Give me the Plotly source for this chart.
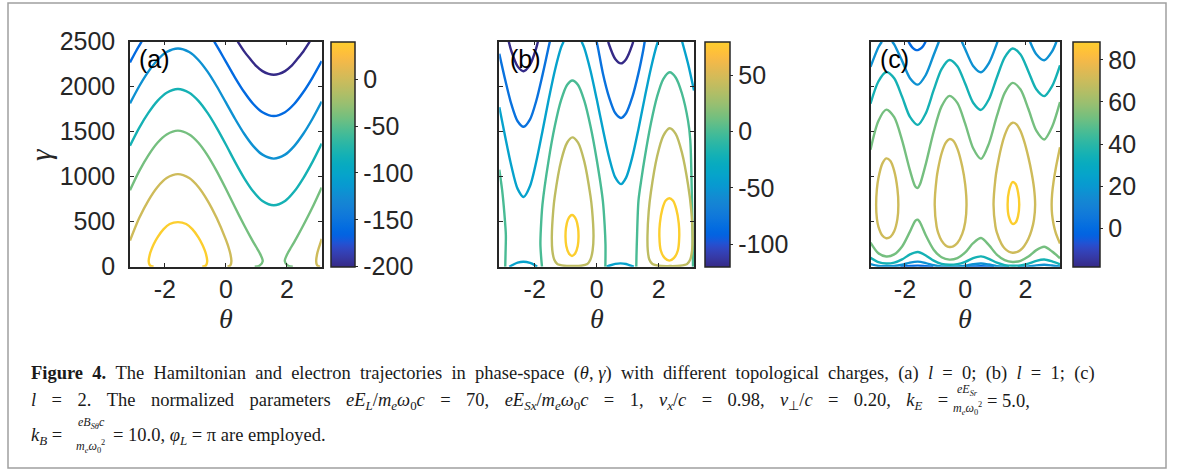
import math
import plotly.graph_objects as go

W, H = 1182, 470
PI = math.pi

# ----------------------------------------------------------------------------
# Contour levels and contour-line vertices (theta, gamma)
# ----------------------------------------------------------------------------
# Panel (a): l = 0
A_LEVELS = [-200, -160, -120, -80, -40, 0, 40]
a_m200 = [[(0.39, 2500), (0.6, 2392), (0.8, 2307), (1.0, 2228), (1.2, 2173), (1.4, 2142), (1.571, 2133),
           (1.74, 2142), (1.94, 2173), (2.14, 2228), (2.34, 2307), (2.54, 2392), (2.75, 2500)]]
a_m160 = [[(-0.38, 2500), (-0.2, 2397), (0, 2279), (0.3, 2102), (0.6, 1941), (0.9, 1808), (1.2, 1717),
           (1.571, 1675), (1.94, 1717), (2.24, 1808), (2.54, 1941), (2.84, 2102), (3.1416, 2285)],
          [(-3.1416, 2270), (-2.94, 2397), (-2.76, 2500)]]
a_m120 = [[(-3.1416, 1815), (-2.84, 2005), (-2.54, 2167), (-2.24, 2297), (-1.94, 2385), (-1.571, 2425),
           (-1.2, 2385), (-0.9, 2297), (-0.6, 2167), (-0.3, 2005), (0, 1825), (0.3, 1644), (0.6, 1477),
           (0.9, 1340), (1.2, 1245), (1.571, 1201), (1.94, 1245), (2.24, 1340), (2.54, 1477), (2.84, 1644),
           (3.1416, 1835)]]
a_m80 = [[(-3.1416, 1345), (-2.84, 1543), (-2.54, 1709), (-2.24, 1843), (-1.94, 1933), (-1.571, 1974),
          (-1.2, 1933), (-0.9, 1843), (-0.6, 1709), (-0.3, 1543), (0, 1358), (0.3, 1165), (0.6, 985),
          (0.9, 835), (1.2, 730), (1.571, 682), (1.94, 730), (2.24, 835), (2.54, 985), (2.84, 1165),
          (3.1416, 1368)]]
a_m40 = [[(0.946, 0), (1.1, 10), (1.209, 62), (1.1, 158), (1.0, 216), (0.9, 274), (0.8, 334), (0.6, 460),
          (0.3, 660), (0, 866), (-0.3, 1062), (-0.6, 1237), (-0.9, 1377), (-1.2, 1469), (-1.571, 1512),
          (-1.94, 1469), (-2.24, 1377), (-2.54, 1237), (-2.84, 1062), (-3.1416, 850)],
         [(3.1416, 880), (2.84, 660), (2.54, 460), (2.34, 334), (2.24, 274), (2.14, 216), (2.04, 158),
          (1.932, 62), (2.04, 10), (2.195, 0)]]
a_0 = [[(0.057, 0), (0.15, 15), (0.182, 62), (0.15, 139), (0.1, 202), (0.057, 247), (0, 301), (-0.3, 540),
        (-0.6, 735), (-0.9, 886), (-1.2, 985), (-1.571, 1029), (-1.94, 985), (-2.24, 886), (-2.54, 735),
        (-2.84, 540), (-3.1416, 290)],
       [(3.1416, 310), (3.085, 247), (3.04, 202), (2.99, 139), (2.96, 62), (2.99, 15), (3.085, 0)]]
a_40 = [[(-0.773, 0), (-0.65, 15), (-0.611, 62), (-0.65, 139), (-0.7, 189), (-0.773, 247), (-0.9, 326),
         (-1.1, 417), (-1.3, 474), (-1.571, 495), (-1.84, 474), (-2.04, 417), (-2.24, 326), (-2.369, 247),
         (-2.44, 189), (-2.49, 139), (-2.53, 62), (-2.49, 15), (-2.369, 0)]]
A_LINES = [a_m200, a_m160, a_m120, a_m80, a_m40, a_0, a_40]

# Panel (b): l = 1
B_LEVELS = [-120, -80, -40, 0, 40, 80]
b_m120 = [[(-2.835, 2500), (-2.75, 2394), (-2.55, 2226), (-2.356, 2172), (-2.15, 2245), (-1.95, 2429),
           (-1.897, 2500)],
          [(0.375, 2500), (0.4, 2469), (0.6, 2308), (0.785, 2259), (0.95, 2306), (1.15, 2467), (1.176, 2500)]]
b_m80 = [[(-3.1416, 2366), (-2.95, 2074), (-2.75, 1803), (-2.55, 1616), (-2.356, 1555), (-2.15, 1637),
          (-1.95, 1841), (-1.75, 2126), (-1.55, 2441), (-1.511, 2500)],
         [(0.0, 2500), (0.05, 2420), (0.2, 2150), (0.4, 1885), (0.6, 1707), (0.785, 1653), (0.95, 1705),
          (1.15, 1884), (1.35, 2151), (1.5, 2400), (1.55, 2500)]]
b_m40 = [[(-3.1416, 1772), (-2.95, 1442), (-2.75, 1116), (-2.55, 865), (-2.356, 775), (-2.15, 896),
          (-1.95, 1165), (-1.75, 1503), (-1.55, 1855), (-1.35, 2178), (-1.15, 2434), (-1.068, 2500)],
         [(-0.484, 2500), (-0.4, 2432), (-0.2, 2180), (0, 1865), (0.2, 1529), (0.4, 1219), (0.6, 992),
          (0.785, 918), (0.95, 990), (1.15, 1217), (1.35, 1531), (1.55, 1876), (1.75, 2203), (1.95, 2473),
          (1.98, 2500)],
         [(2.76, 2500), (2.95, 2255), (3.1416, 1957)],
         [(-2.82, 0), (-2.7, 22), (-2.55, 45), (-2.36, 55), (-2.15, 42), (-2.0, 18), (-1.92, 0)],
         [(0.32, 0), (0.45, 16), (0.6, 31), (0.77, 37), (0.95, 30), (1.08, 15), (1.2, 0)]]
b_0 = [[(-3.1416, 1078), (-3.05, 850), (-2.98, 600), (-2.93, 350), (-2.94, 150), (-2.95, 0)],
       [(-1.764, 0), (-1.79, 100), (-1.815, 250), (-1.80, 420), (-1.75, 686), (-1.55, 1182), (-1.35, 1562),
        (-1.15, 1847), (-0.95, 2021), (-0.785, 2069), (-0.6, 2019), (-0.4, 1845), (-0.2, 1564), (0, 1194),
        (0.2, 732), (0.26, 450), (0.285, 250), (0.285, 100), (0.28, 0)],
       [(1.279, 0), (1.285, 120), (1.30, 300), (1.35, 735), (1.45, 987), (1.55, 1208), (1.75, 1590),
        (1.95, 1889), (2.15, 2084), (2.356, 2160), (2.55, 2103), (2.75, 1927), (2.95, 1620), (3.022, 1408),
        (3.06, 1000), (3.08, 650), (3.10, 300), (3.11, 0)]]
b_40 = [[(-1.446, 341), (-1.4, 627), (-1.35, 784), (-1.15, 1172), (-0.95, 1380), (-0.785, 1437), (-0.6, 1379),
         (-0.4, 1170), (-0.2, 787), (-0.15, 642), (-0.101, 341), (-0.13, 180), (-0.2, 80), (-0.3, 30),
         (-0.5, 10), (-0.785, 7), (-1.05, 10), (-1.27, 30), (-1.37, 80), (-1.43, 180), (-1.446, 341)],
        [(1.64, 341), (1.68, 614), (1.75, 827), (1.95, 1224), (2.15, 1454), (2.356, 1538), (2.55, 1476),
         (2.75, 1270), (2.95, 911), (3.05, 638), (3.097, 341), (3.08, 180), (3.02, 80), (2.92, 30),
         (2.7, 10), (2.356, 7), (2.0, 10), (1.8, 30), (1.7, 80), (1.65, 180), (1.64, 341)]]
b_80 = [[(-0.795, 119), (-0.9, 150), (-0.98, 230), (-1.005, 330), (-0.99, 430), (-0.93, 520), (-0.85, 565),
         (-0.795, 574), (-0.74, 565), (-0.66, 520), (-0.60, 430), (-0.585, 330), (-0.61, 230), (-0.69, 150),
         (-0.795, 119)],
        [(2.345, 67), (2.2, 95), (2.07, 180), (2.025, 330), (2.04, 480), (2.12, 640), (2.23, 735),
         (2.345, 760), (2.46, 735), (2.57, 640), (2.65, 480), (2.665, 330), (2.62, 180), (2.49, 95),
         (2.345, 67)]]
B_LINES = [b_m120, b_m80, b_m40, b_0, b_40, b_80]

# Panel (c): l = 2
C_LEVELS = [-18.2, -0.4, 17.4, 35.2, 53.0, 70.8, 88.6]
c_m18 = []
c_m0 = [[(-1.882, 2500), (-1.833, 2472), (-1.75, 2434), (-1.65, 2410), (-1.571, 2407), (-1.5, 2418),
         (-1.4, 2450), (-1.315, 2500)],
        [(-2.15, 0), (-1.833, 7.5), (-1.571, 11.5), (-1.309, 6), (-1.06, 0)],
        [(0.0, 0), (0.262, 2.3), (0.524, 4.6), (0.785, 1.5), (0.95, 0)]]
c_17 = [[(-3.1416, 2221), (-2.880, 2439), (-2.765, 2500)],
        [(-2.421, 2500), (-2.356, 2470), (-2.094, 2287), (-1.833, 2095), (-1.571, 2023), (-1.309, 2130),
         (-1.047, 2352), (-0.875, 2500)],
        [(-0.112, 2500), (0, 2416), (0.262, 2231), (0.524, 2161), (0.785, 2263), (1.047, 2479), (1.071, 2500)],
        [(2.148, 2500), (2.356, 2361), (2.618, 2294), (2.880, 2393), (3.023, 2500)],
        [(-3.1416, 28), (-2.880, 9), (-2.618, 5), (-2.356, 8), (-2.094, 22), (-1.833, 45), (-1.571, 56),
         (-1.309, 40), (-1.047, 16), (-0.785, 3), (-0.524, 1), (-0.262, 2), (0, 11), (0.262, 27), (0.524, 36),
         (0.785, 24), (1.047, 7), (1.309, 0.4), (1.45, 0)],
        [(1.74, 0), (1.833, 0.1), (2.094, 4), (2.356, 15), (2.618, 21), (2.880, 13), (3.1416, 2)]]
c_35 = [[(-3.1416, 1812), (-2.880, 2058), (-2.618, 2164), (-2.356, 2093), (-2.094, 1888), (-1.833, 1664),
         (-1.571, 1576), (-1.309, 1704), (-1.047, 1961), (-0.785, 2195), (-0.524, 2296), (-0.262, 2228),
         (0, 2032), (0.262, 1822), (0.524, 1742), (0.785, 1860), (1.047, 2102), (1.309, 2326), (1.571, 2425),
         (1.833, 2359), (2.094, 2170), (2.356, 1971), (2.618, 1895), (2.880, 2006), (3.1416, 2237)],
        [(-3.1416, 98), (-2.880, 50), (-2.618, 35), (-2.356, 45), (-2.094, 81), (-1.833, 136), (-1.571, 163),
         (-1.309, 125), (-1.047, 67), (-0.785, 31), (-0.524, 21), (-0.262, 28), (0, 54), (0.262, 95),
         (0.524, 115), (0.785, 87), (1.047, 44), (1.309, 18), (1.571, 10), (1.833, 15), (2.094, 34),
         (2.356, 65), (2.618, 80), (2.880, 59), (3.1416, 27)]]
c_53 = [[(-3.1416, 1301), (-2.880, 1619), (-2.618, 1745), (-2.356, 1661), (-2.094, 1404), (-1.833, 1070),
         (-1.65, 888), (-1.571, 876), (-1.5, 915), (-1.309, 1140), (-1.047, 1499), (-0.785, 1781),
         (-0.524, 1898), (-0.262, 1820), (0, 1587), (0.262, 1316), (0.524, 1198), (0.785, 1368), (1.047, 1672),
         (1.309, 1932), (1.571, 2042), (1.833, 1968), (2.094, 1752), (2.356, 1511), (2.618, 1414),
         (2.880, 1556), (3.1416, 1830)],
        [(-3.1416, 268), (-2.880, 149), (-2.618, 114), (-2.356, 137), (-2.094, 225), (-1.833, 390),
         (-1.65, 513), (-1.571, 522), (-1.5, 493), (-1.309, 349), (-1.047, 189), (-0.785, 105), (-0.524, 79),
         (-0.262, 96), (0, 159), (0.262, 262), (0.524, 319), (0.785, 239), (1.047, 134), (1.309, 72),
         (1.571, 53), (1.833, 65), (2.094, 112), (2.356, 184), (2.618, 221), (2.880, 169), (3.1416, 94)]]
c_70 = [[(-2.955, 688), (-2.93, 862), (-2.88, 983), (-2.75, 1145), (-2.618, 1203), (-2.48, 1174),
         (-2.356, 1065), (-2.25, 868), (-2.218, 688), (-2.25, 528), (-2.356, 393), (-2.48, 331), (-2.618, 316),
         (-2.75, 347), (-2.88, 446), (-2.93, 533), (-2.955, 688)],
        [(-1.013, 688), (-0.95, 981), (-0.9, 1088), (-0.785, 1258), (-0.65, 1375), (-0.524, 1418),
         (-0.4, 1400), (-0.262, 1312), (-0.1, 1113), (0, 910), (0.042, 688), (0, 497), (-0.1, 365),
         (-0.262, 263), (-0.4, 226), (-0.524, 219), (-0.65, 236), (-0.785, 289), (-0.9, 379), (-0.95, 446),
         (-1.013, 688)],
        [(0.938, 688), (1.0, 977), (1.047, 1085), (1.2, 1336), (1.309, 1462), (1.45, 1565), (1.571, 1600),
         (1.7, 1582), (1.833, 1508), (1.95, 1398), (2.094, 1215), (2.2, 1044), (2.28, 873), (2.317, 688),
         (2.28, 525), (2.2, 406), (2.094, 310), (1.95, 227), (1.833, 186), (1.7, 161), (1.571, 155),
         (1.45, 166), (1.309, 202), (1.2, 253), (1.047, 381), (1.0, 449), (0.938, 688)],
        [(3.1416, 1327), (3.0, 1092), (2.93, 949), (2.88, 807), (2.864, 688), (2.88, 578), (2.93, 469),
         (3.0, 377), (3.1416, 257)]]
c_88 = [[(1.405, 688), (1.45, 842), (1.571, 940), (1.671, 918), (1.75, 827), (1.79, 688), (1.75, 562),
         (1.671, 491), (1.571, 475), (1.45, 550), (1.405, 688)]]
C_LINES = [c_m18, c_m0, c_17, c_35, c_53, c_70, c_88]

# tick labels
X_TICKS = [-2, 0, 2]
Y_TICKS = [0, 500, 1000, 1500, 2000, 2500]
A_CB_TICKS = [-200, -150, -100, -50, 0]
B_CB_TICKS = [-100, -50, 0, 50]
C_CB_TICKS = [0, 20, 40, 60, 80]
A_CB_RANGE = [-200, 40]
B_CB_RANGE = [-120, 80]
C_CB_RANGE = [-18.2, 88.6]

# ----------------------------------------------------------------------------
# Style
# ----------------------------------------------------------------------------
PARULA = [
    (0.2081, 0.1663, 0.5292), (0.2116, 0.1898, 0.5777), (0.2123, 0.2138, 0.6270), (0.2081, 0.2386, 0.6771),
    (0.1959, 0.2645, 0.7279), (0.1707, 0.2919, 0.7792), (0.1253, 0.3242, 0.8303), (0.0591, 0.3598, 0.8683),
    (0.0117, 0.3875, 0.8820), (0.0060, 0.4086, 0.8828), (0.0165, 0.4266, 0.8786), (0.0329, 0.4430, 0.8720),
    (0.0498, 0.4586, 0.8641), (0.0629, 0.4737, 0.8554), (0.0723, 0.4887, 0.8467), (0.0779, 0.5040, 0.8384),
    (0.0793, 0.5200, 0.8312), (0.0749, 0.5375, 0.8263), (0.0641, 0.5570, 0.8240), (0.0488, 0.5772, 0.8228),
    (0.0343, 0.5966, 0.8199), (0.0265, 0.6137, 0.8135), (0.0239, 0.6287, 0.8038), (0.0231, 0.6418, 0.7913),
    (0.0228, 0.6535, 0.7768), (0.0267, 0.6642, 0.7607), (0.0384, 0.6743, 0.7436), (0.0590, 0.6838, 0.7254),
    (0.0843, 0.6928, 0.7062), (0.1133, 0.7015, 0.6859), (0.1453, 0.7098, 0.6646), (0.1801, 0.7177, 0.6424),
    (0.2178, 0.7250, 0.6193), (0.2586, 0.7317, 0.5954), (0.3022, 0.7376, 0.5712), (0.3482, 0.7424, 0.5473),
    (0.3953, 0.7459, 0.5244), (0.4420, 0.7481, 0.5033), (0.4871, 0.7491, 0.4840), (0.5300, 0.7491, 0.4661),
    (0.5709, 0.7485, 0.4494), (0.6099, 0.7473, 0.4337), (0.6473, 0.7456, 0.4188), (0.6834, 0.7435, 0.4044),
    (0.7184, 0.7411, 0.3905), (0.7525, 0.7384, 0.3768), (0.7858, 0.7356, 0.3633), (0.8185, 0.7327, 0.3498),
    (0.8507, 0.7299, 0.3360), (0.8824, 0.7274, 0.3217), (0.9139, 0.7258, 0.3063), (0.9450, 0.7261, 0.2886),
    (0.9739, 0.7314, 0.2666), (0.9938, 0.7455, 0.2403), (0.9990, 0.7653, 0.2164), (0.9955, 0.7861, 0.1967),
    (0.9880, 0.8066, 0.1794),
]
N = len(PARULA)
COLORSCALE = [[i / (N - 1), 'rgb(%d,%d,%d)' % tuple(round(255 * c) for c in PARULA[i])] for i in range(N)]


def cmap(frac):
    frac = min(max(frac, 0.0), 1.0)
    p = frac * (N - 1)
    i = min(int(p), N - 2)
    t = p - i
    c = [PARULA[i][k] * (1 - t) + PARULA[i + 1][k] * t for k in range(3)]
    return 'rgb(%d,%d,%d)' % tuple(round(255 * v) for v in c)


AX = '#262626'
SANS = 'Liberation Sans, Arial, Helvetica, sans-serif'
SERIF = 'Liberation Serif, Times New Roman, serif'
TICKFONT = dict(family=SANS, size=25, color=AX)

TOP, BOT = 41.7, 266.7
PANELS = [
    dict(name='a', x0=130.0, x1=321.7, cb0=331.0, cbw=24, levels=A_LEVELS, lines=A_LINES,
         cbr=A_CB_RANGE, cbt=A_CB_TICKS, lab_x=154),
    dict(name='b', x0=499.3, x1=694.0, cb0=705.0, cbw=25, levels=B_LEVELS, lines=B_LINES,
         cbr=B_CB_RANGE, cbt=B_CB_TICKS, lab_x=525),
    dict(name='c', x0=870.5, x1=1060.0, cb0=1073.0, cbw=27, levels=C_LEVELS, lines=C_LINES,
         cbr=C_CB_RANGE, cbt=C_CB_TICKS, lab_x=894),
]

fig = go.Figure()
layout = dict(width=W, height=H, margin=dict(l=0, r=0, t=0, b=0, autoexpand=False), paper_bgcolor='white',
              plot_bgcolor='white', showlegend=False)
annotations = []

for idx, p in enumerate(PANELS):
    sfx = '' if idx == 0 else str(idx + 1)
    xa, ya = 'x' + sfx, 'y' + sfx
    lo, hi = p['cbr']
    for lev, segs in zip(p['levels'], p['lines']):
        col = cmap((lev - lo) / (hi - lo))
        for seg in segs:
            fig.add_trace(go.Scatter(
                x=[q[0] for q in seg], y=[q[1] for q in seg], mode='lines',
                line=dict(color=col, width=2.4, shape='spline', smoothing=0.8),
                xaxis=xa, yaxis=ya, hoverinfo='skip', showlegend=False))
    # colour bar
    fig.add_trace(go.Scatter(
        x=[0], y=[-1000], mode='markers', xaxis=xa, yaxis=ya, hoverinfo='skip', showlegend=False,
        marker=dict(size=1, opacity=0, color=[lo], cmin=lo, cmax=hi, colorscale=COLORSCALE, showscale=True,
                    colorbar=dict(x=p['cb0'] / W, xanchor='left', xpad=0, y=1 - (TOP + BOT) / 2 / H,
                                  yanchor='middle', ypad=0, len=BOT - TOP, lenmode='pixels',
                                  thickness=p['cbw'], thicknessmode='pixels', outlinewidth=1.5,
                                  outlinecolor=AX, tickvals=p['cbt'],
                                  ticktext=[str(v) for v in p['cbt']], ticks='outside', ticklen=3,
                                  tickwidth=1.2, tickcolor=AX, tickfont=TICKFONT))))
    layout['xaxis' + sfx] = dict(domain=[p['x0'] / W, p['x1'] / W], range=[-PI, PI], anchor=ya,
                                 tickvals=X_TICKS, ticktext=[str(v) for v in X_TICKS], ticks='inside',
                                 ticklen=4, tickwidth=1.2, tickcolor=AX, showline=True, mirror='ticks',
                                 linecolor=AX, linewidth=1.5, showgrid=False, zeroline=False,
                                 tickfont=TICKFONT, ticklabelstandoff=0, automargin=False)
    layout['yaxis' + sfx] = dict(domain=[1 - BOT / H, 1 - TOP / H], range=[0, 2500], anchor=xa,
                                 tickvals=Y_TICKS, ticktext=[str(v) for v in Y_TICKS], ticks='inside',
                                 ticklen=4, tickwidth=1.2, tickcolor=AX, showline=True, mirror='ticks',
                                 linecolor=AX, linewidth=1.5, showgrid=False, zeroline=False,
                                 tickfont=TICKFONT, showticklabels=(idx == 0), ticklabelstandoff=8,
                                 automargin=False)
    # axis title theta
    annotations.append(dict(x=(p['x0'] + p['x1']) / 2 / W, y=1 - 318 / H, xref='paper', yref='paper',
                            text='<i>θ</i>', showarrow=False, xanchor='center', yanchor='middle',
                            font=dict(family=SERIF, size=28, color=AX)))
    # panel label
    annotations.append(dict(x=p['lab_x'] / W, y=1 - 59 / H, xref='paper', yref='paper',
                            text='(%s)' % p['name'], showarrow=False, xanchor='center', yanchor='middle',
                            font=dict(family=SANS, size=25, color='black')))

annotations.append(dict(x=41 / W, y=1 - 155 / H, xref='paper', yref='paper', text='<i>γ</i>',
                        showarrow=False, textangle=-90, xanchor='center', yanchor='middle',
                        font=dict(family=SERIF, size=29, color=AX)))

# caption
CAP = dict(family=SERIF, size=18.5, color='#1a1a1a')
SMALL = dict(family=SERIF, size=12, color='#1a1a1a')
S1 = '&#8194;'            # widened word space (justified line)
S2 = '&#8194;&#8196;'     # wider space used in the math-heavy second line


def cap(x, y, text, font=CAP, anchor='left'):
    annotations.append(dict(x=x / W, y=1 - y / H, xref='paper', yref='paper', text=text, showarrow=False,
                            xanchor=anchor, yanchor='middle', font=font))


line1 = ['<b>Figure</b>', '<b>4.</b>', 'The', 'Hamiltonian', 'and', 'electron', 'trajectories', 'in',
         'phase-space', '(<i>θ</i>, <i>γ</i>)', 'with', 'different', 'topological', 'charges,', '(a)',
         '<i>l</i>', '=', '0;', '(b)', '<i>l</i>', '=', '1;', '(c)']
line2 = ['<i>l</i>', '=', '2.', 'The', 'normalized', 'parameters',
         '<i>eE<sub>L</sub></i>/<i>m<sub>e</sub>ω</i><sub>0</sub><i>c</i>', '=', '70,',
         '<i>eE<sub>Sx</sub></i>/<i>m<sub>e</sub>ω</i><sub>0</sub><i>c</i>', '=', '1,',
         '<i>v<sub>x</sub></i>/<i>c</i>', '=', '0.98,', '<i>v</i><sub>⊥</sub>/<i>c</i>', '=', '0.20,',
         '<i>k<sub>E</sub></i>', '=']
cap(29, 373, S1.join(line1))
cap(29, 401, S2.join(line2))
cap(967, 390, '<i>eE<sub>Sr</sub></i>', SMALL, 'center')
cap(967, 408, '<i>m<sub>e</sub>ω</i><sub>0</sub><sup>2</sup>', SMALL, 'center')
cap(985, 401, '= 5.0,')
cap(29, 436, '<i>k<sub>B</sub></i> =')
cap(91, 423, '<i>eB<sub>Sθ</sub>c</i>', SMALL, 'center')
cap(90, 446, '<i>m<sub>e</sub>ω</i><sub>0</sub><sup>2</sup>', SMALL, 'center')
cap(111, 436, '= 10.0, <i>φ<sub>L</sub></i> = π are employed.')

layout['annotations'] = annotations
layout['shapes'] = [dict(type='rect', xref='paper', yref='paper', x0=8 / W, x1=1166 / W, y0=1 - 468 / H,
                         y1=1 - 3 / H, line=dict(color='#a0a0a0', width=1.5), fillcolor='rgba(0,0,0,0)')]
fig.update_layout(**layout)
fig.write_html('out.html')
